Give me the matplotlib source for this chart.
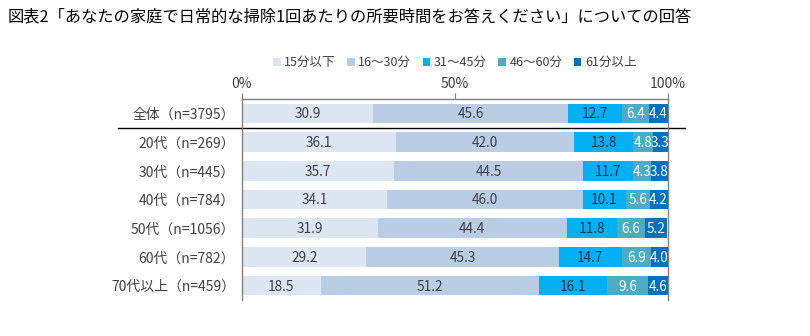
import matplotlib.pyplot as plt
import numpy as np

plt.rcParams["font.family"] = ["Noto Sans CJK JP", "DejaVu Sans"]

groups = ["全体（n=3795）", "20代（n=269）", "30代（n=445）", "40代（n=784）",
          "50代（n=1056）", "60代（n=782）", "70代以上（n=459）"]
categories = ["15分以下", "16～30分", "31～45分", "46～60分", "61分以上"]
values = [
    [30.9, 45.6, 12.7, 6.4, 4.4],
    [36.1, 42.0, 13.8, 4.8, 3.3],
    [35.7, 44.5, 11.7, 4.3, 3.8],
    [34.1, 46.0, 10.1, 5.6, 4.2],
    [31.9, 44.4, 11.8, 6.6, 5.2],
    [29.2, 45.3, 14.7, 6.9, 4.0],
    [18.5, 51.2, 16.1, 9.6, 4.6],
]
colors = ["#dce6f2", "#b9cde5", "#00b0f0", "#4bacc6", "#0070c0"]
text_colors = ["#404040", "#404040", "#1f3050", "white", "white"]

fig = plt.figure(figsize=(8.1, 3.36), dpi=100)
ax = fig.add_axes([242 / 810, 1 - 300 / 336, 425.5 / 810, 201 / 336])

data = np.array(values)
y = np.arange(len(groups))
left = np.zeros(len(groups))
for j, cat in enumerate(categories):
    ax.barh(y, data[:, j], left=left, height=0.68, color=colors[j], label=cat)
    for i in range(len(groups)):
        ax.text(left[i] + data[i, j] / 2, y[i] + 0.03, f"{data[i, j]:.1f}",
                ha="center", va="center", fontsize=9.8, color=text_colors[j],
                clip_on=True)
    left += data[:, j]

ax.set_xlim(0, 100)
ax.set_ylim(len(groups) - 0.5, -0.5)
ax.set_yticks(y)
ax.set_yticklabels(groups, fontsize=10, color="#404040")
ax.tick_params(axis="y", length=0, pad=5)
ax.xaxis.tick_top()
ax.set_xticks([0, 50, 100])
ax.set_xticklabels(["0%", "50%", "100%"], fontsize=10, color="#404040")
ax.tick_params(axis="x", length=4, color="#808080", pad=2)
for s in ["top", "left", "right"]:
    ax.spines[s].set_color("#808080")
    ax.spines[s].set_linewidth(1)
ax.spines["bottom"].set_visible(False)

# separator under 全体
ax.plot([-29.1, 104.0], [0.5, 0.5], color="black", lw=1, clip_on=False)

ax.legend(loc="center", bbox_to_anchor=(0.5, 1.18), ncol=5, frameon=False,
          fontsize=9, handlelength=0.6, handleheight=0.6, handletextpad=0.3,
          columnspacing=0.9, labelcolor="#404040")

fig.text(8 / 810, 1 - 17 / 336, "図表2「あなたの家庭で日常的な掃除1回あたりの所要時間をお答えください」についての回答",
         fontsize=11.7, va="center", ha="left", color="black")

fig.savefig("out.png", dpi=100)
